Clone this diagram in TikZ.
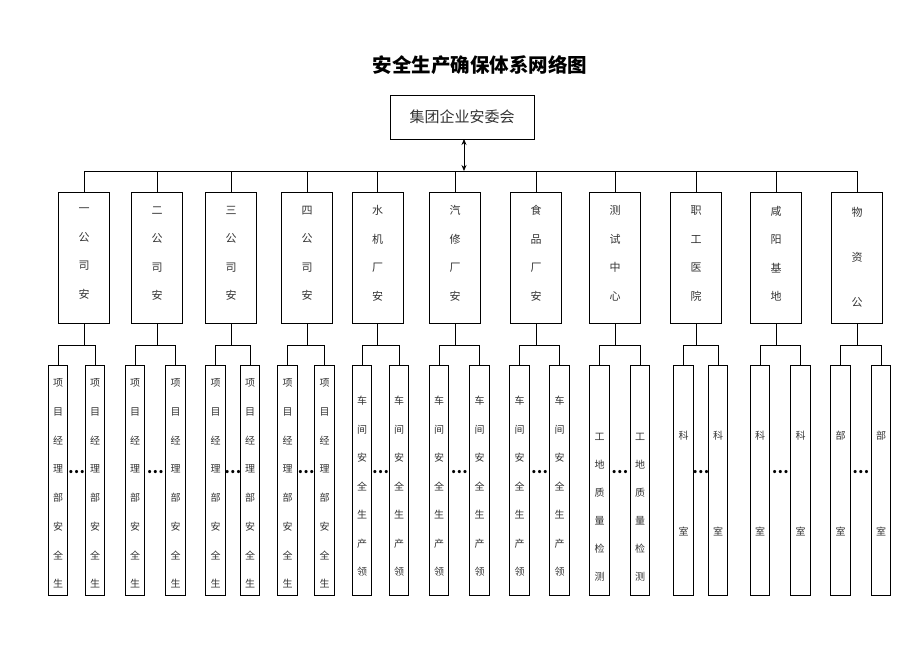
\documentclass[tikz,border=0pt]{standalone}
\usepackage{fontspec}
\setmainfont{Noto Sans CJK SC}
\usetikzlibrary{arrows.meta}

% vertical labels of the lower boxes
\newcommand\xmtxt{项\\目\\经\\理\\部\\安\\全\\生}
\newcommand\cjtxt{车\\间\\安\\全\\生\\产\\领}
\newcommand\gdtxt{工\\地\\质\\量\\检\\测}
\newcommand\kstxt{科\\室}
\newcommand\bstxt{部\\室}

\begin{document}
\begin{tikzpicture}[
    x=1pt, y=-1pt,
    every node/.style={inner sep=0pt, outer sep=0pt},
    >={Stealth[length=6pt, width=5pt]}
  ]
  \tikzset{
    topbox/.style={draw, line width=0.8pt, minimum width=144pt, minimum height=44pt,
      text=black!80, font=\fontsize{15}{15}\selectfont},
    unitbox/.style={draw, line width=0.8pt, minimum width=51pt, minimum height=131pt},
    kidbox/.style={draw, line width=0.8pt, minimum width=19.5pt, minimum height=230pt},
    utext/.style={align=center, text=black!80, font=\fontsize{11}{#1}\selectfont},
    ktext/.style={align=center, text=black!80, font=\fontsize{10}{#1}\selectfont},
    wire/.style={line width=0.8pt}
  }
  \useasboundingbox (0,0) rectangle (920,651);

  \node[font=\fontsize{19.5}{19.5}\selectfont\bfseries] (title) at (480,65) {安全生产确保体系网络图};
  \node[topbox] (top) at (462,117) {集团企业安委会};
  \coordinate (bus) at (464,171);
  \draw[wire, <->] (top.south -| bus) -- (bus);

  % unit boxes
  \foreach \n/\x in {1/84, 2/157, 3/231, 4/307, 5/377.5, 6/455,
      7/536, 8/615, 9/696, 10/776, 11/857} {
    \node[unitbox] (u\n) at (\x,257.5) {};
    \draw[wire] (u\n.north) -- (u\n.north |- bus);
    \coordinate (f\n) at (\x,345);
    \draw[wire] (u\n.south) -- (f\n);
  }
  \draw[wire] (u1.north |- bus) -- (u11.north |- bus);

  % unit labels
  \foreach \n/\ulab/\usp/\uy in {
      1/{一\\公\\司\\安}/28.5/4, 2/{二\\公\\司\\安}/28.5/4,
      3/{三\\公\\司\\安}/28.5/4, 4/{四\\公\\司\\安}/28.5/4,
      5/{水\\机\\厂\\安}/28.5/4, 6/{汽\\修\\厂\\安}/28.5/4,
      7/{食\\品\\厂\\安}/28.5/4, 8/{测\\试\\中\\心}/28.5/4,
      9/{职\\工\\医\\院}/28.5/4, 10/{咸\\阳\\基\\地}/28.5/4,
      11/{物\\资\\公}/45/0} {
    \node[utext=\usp] (ut\n) at ([yshift=\uy pt]u\n.center) {\ulab};
  }

  % lower boxes
  \foreach \n/\ax/\bx in {1/58/95, 2/135/175.5, 3/215.5/250,
      4/287.5/324.5, 5/362/399, 6/439/479.5, 7/519.5/559.5,
      8/599.5/640, 9/683.5/718, 10/760/800.5, 11/840.5/881} {
    \node[kidbox] (ka\n) at (\ax,480) {};
    \node[kidbox] (kb\n) at (\bx,480) {};
  }

  % forks
  \foreach \n in {1,...,11} {
    \draw[wire] (ka\n.north) -- (ka\n.north |- f\n) -- (kb\n.north |- f\n) -- (kb\n.north);
  }

  % dots between the lower boxes
  \foreach \n in {1,...,11} {
    \path (ka\n.east) -- (kb\n.west) node[midway, yshift=8pt,
      font=\fontsize{15}{15}\selectfont\bfseries] (d\n) {…};
  }

  % lower labels
  \foreach \n/\klab/\ksp/\ky in {1/\xmtxt/28.7/-3.5, 2/\xmtxt/28.7/-3.5,
      3/\xmtxt/28.7/-3.5, 4/\xmtxt/28.7/-3.5, 5/\cjtxt/28.5/-6.5,
      6/\cjtxt/28.5/-6.5, 7/\cjtxt/28.5/-6.5, 8/\gdtxt/28/-27,
      9/\kstxt/96/-4, 10/\kstxt/96/-4, 11/\bstxt/96/-4} {
    \node[ktext=\ksp] (kta\n) at ([yshift=\ky pt]ka\n.center) {\klab};
    \node[ktext=\ksp] (ktb\n) at ([yshift=\ky pt]kb\n.center) {\klab};
  }
\end{tikzpicture}
\end{document}
